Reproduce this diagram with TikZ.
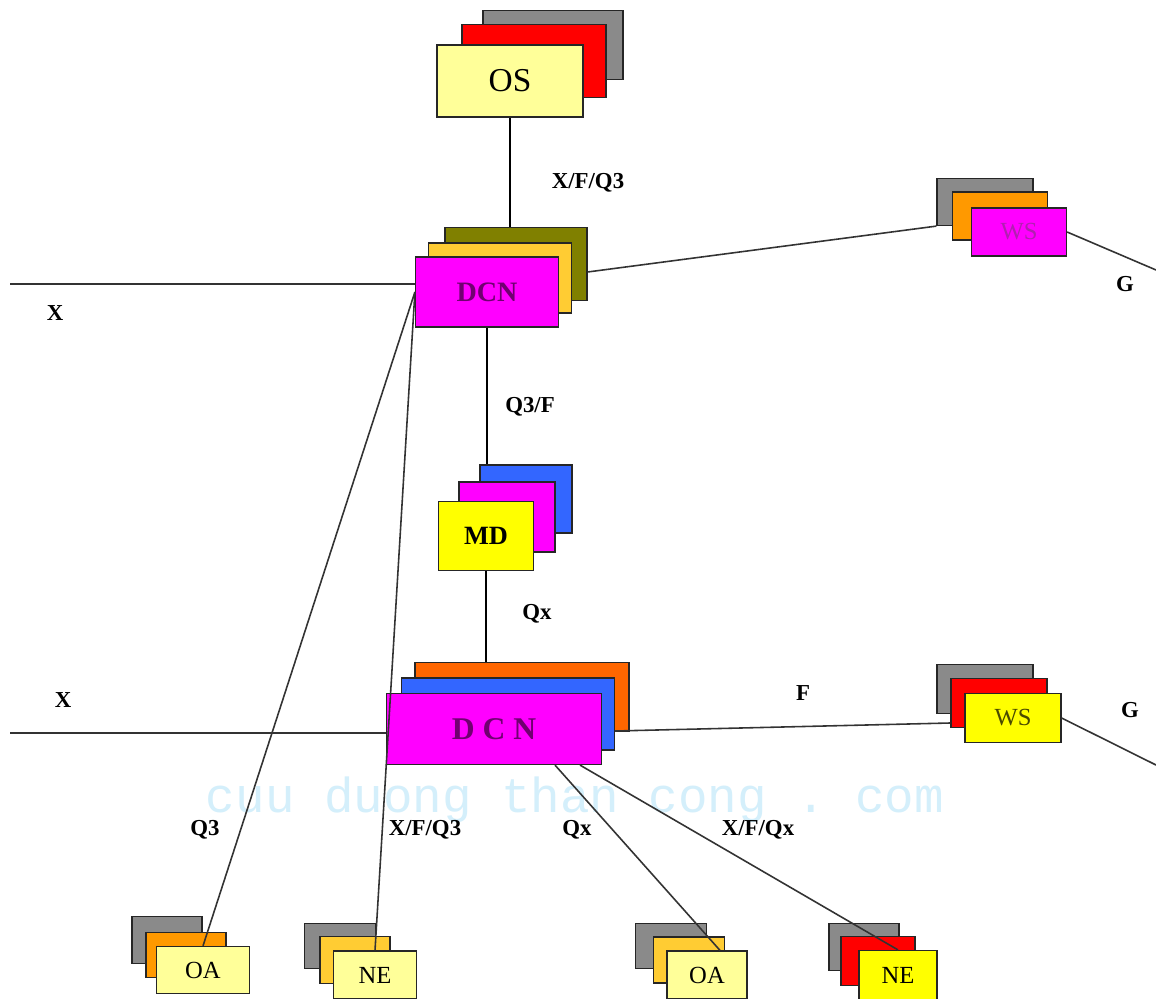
\documentclass[tikz,border=0pt]{standalone}
\usepackage{fontspec}
\setmainfont{Liberation Serif}
\setmonofont{Liberation Mono}
\definecolor{tmngray}{HTML}{8A8A8A}
\definecolor{tmnred}{HTML}{FF0000}
\definecolor{tmnpale}{HTML}{FFFF99}
\definecolor{tmnyellow}{HTML}{FFFF00}
\definecolor{tmnmagenta}{HTML}{FF00FF}
\definecolor{tmnolive}{HTML}{808000}
\definecolor{tmngold}{HTML}{FFCC33}
\definecolor{tmnorange}{HTML}{FF9900}
\definecolor{tmnblue}{HTML}{3366FF}
\definecolor{tmndeep}{HTML}{FF6600}
\definecolor{tmnplum}{HTML}{700070}
\definecolor{tmnwsplum}{HTML}{B020B0}
\definecolor{tmndark}{HTML}{4A4A00}
\definecolor{tmnmark}{HTML}{D4EFFB}

\begin{document}
\begin{tikzpicture}[x=0.02cm, y=-0.02cm,
    card/.style={draw=black!85, line width=0.7pt, inner sep=0pt},
    link/.style={draw=black!80, line width=0.9pt},
    trunk/.style={draw=black, line width=1.5pt},
    tag/.style={font=\fontsize{13}{15}\selectfont\bfseries, inner sep=1pt}]
    \fill[white] (0,0) rectangle (1156,999);
    \useasboundingbox (0,0) rectangle (1156,999);
    % watermark
    \node[font=\ttfamily\fontsize{28}{30}\selectfont, text=tmnmark, inner sep=0pt, anchor=base] (mark) at (575,812) {cuu duong than cong . com};
    % === OS ===
    \node[card, fill=tmngray, minimum width=2.80cm, minimum height=1.38cm] (osC) at (553,45) {};
    \node[card, fill=tmnred, minimum width=2.88cm, minimum height=1.46cm] (osB) at (534,61) {};
    \node[card, fill=tmnpale, minimum width=2.92cm, minimum height=1.44cm, font=\fontsize{19}{21}\selectfont] (os) at (510,81) {OS};
    % === upper DCN ===
    \node[card, fill=tmnolive, minimum width=2.84cm, minimum height=1.46cm] (dcnAc) at (516,264) {};
    \node[card, fill=tmngold, minimum width=2.86cm, minimum height=1.40cm] (dcnAb) at (500,278) {};
    \node[card, fill=tmnmagenta, minimum width=2.86cm, minimum height=1.40cm, font=\fontsize{16}{18}\selectfont\bfseries, text=tmnplum] (dcnA) at (487,292) {DCN};
    % === upper WS ===
    \node[card, fill=tmngray, minimum width=1.92cm, minimum height=0.94cm] (wsAc) at (985,202) {};
    \node[card, fill=tmnorange, minimum width=1.90cm, minimum height=0.96cm] (wsAb) at (1000,216) {};
    \node[card, fill=tmnmagenta, minimum width=1.90cm, minimum height=0.96cm, font=\fontsize{14}{16}\selectfont, text=tmnwsplum] (wsA) at (1019,232) {WS};
    % === MD ===
    \node[card, fill=tmnblue, minimum width=1.84cm, minimum height=1.36cm] (mdC) at (526,499) {};
    \node[card, fill=tmnmagenta, minimum width=1.92cm, minimum height=1.40cm] (mdB) at (507,517) {};
    \node[card, fill=tmnyellow, minimum width=1.90cm, minimum height=1.38cm, font=\fontsize{15}{17}\selectfont\bfseries] (md) at (486,536) {MD};
    % === lower DCN ===
    \node[card, fill=tmndeep, minimum width=4.28cm, minimum height=1.38cm] (dcnBc) at (522,697) {};
    \node[card, fill=tmnblue, minimum width=4.26cm, minimum height=1.44cm] (dcnBb) at (508,714) {};
    \node[card, fill=tmnmagenta, minimum width=4.30cm, minimum height=1.42cm, font=\fontsize{18}{20}\selectfont\bfseries, text=tmnplum] (dcnB) at (494,729) {D C N};
    % === lower WS ===
    \node[card, fill=tmngray, minimum width=1.92cm, minimum height=0.98cm] (wsBc) at (985,689) {};
    \node[card, fill=tmnred, minimum width=1.92cm, minimum height=0.98cm] (wsBb) at (999,703) {};
    \node[card, fill=tmnyellow, minimum width=1.92cm, minimum height=0.98cm, font=\fontsize{14}{16}\selectfont, text=tmndark] (wsB) at (1013,718) {WS};
    % === bottom row ===
    \node[card, fill=tmngray, minimum width=1.40cm, minimum height=0.94cm] (oaAc) at (167,940) {};
    \node[card, fill=tmnorange, minimum width=1.60cm, minimum height=0.90cm] (oaAb) at (186,955) {};
    \node[card, fill=tmnpale, minimum width=1.86cm, minimum height=0.94cm, font=\fontsize{14}{16}\selectfont] (oaA) at (203,970) {OA};
    \node[card, fill=tmngray, minimum width=1.42cm, minimum height=0.90cm] (neAc) at (340,946) {};
    \node[card, fill=tmngold, minimum width=1.40cm, minimum height=0.94cm] (neAb) at (355,960) {};
    \node[card, fill=tmnpale, minimum width=1.66cm, minimum height=0.96cm, font=\fontsize{14}{16}\selectfont] (neA) at (375,975) {NE};
    \node[card, fill=tmngray, minimum width=1.42cm, minimum height=0.90cm] (oaBc) at (671,946) {};
    \node[card, fill=tmngold, minimum width=1.42cm, minimum height=0.92cm] (oaBb) at (689,960) {};
    \node[card, fill=tmnpale, minimum width=1.60cm, minimum height=0.96cm, font=\fontsize{14}{16}\selectfont] (oaB) at (707,975) {OA};
    \node[card, fill=tmngray, minimum width=1.40cm, minimum height=0.94cm] (neBc) at (864,947) {};
    \node[card, fill=tmnred, minimum width=1.48cm, minimum height=0.98cm] (neBb) at (878,961) {};
    \node[card, fill=tmnyellow, minimum width=1.56cm, minimum height=0.98cm, font=\fontsize{14}{16}\selectfont] (neB) at (898,975) {NE};
    % free ends
    \coordinate (xA) at (10,284);
    \coordinate (xB) at (10,733);
    \coordinate (gA) at (1156,270);
    \coordinate (gB) at (1156,765);
    % === connectors ===
    \draw[trunk] (os.south -| 510,0) -- (dcnAc.north -| 510,0);
    \draw[trunk] (dcnA.south) -- (dcnA.south |- mdC.north);
    \draw[trunk] (md.south) -- (md.south |- dcnBc.north);
    \draw[link] (xA) -- (xA -| dcnA.west);
    \draw[link] (xB) -- (xB -| dcnB.west);
    \draw[link] (dcnAc.east |- 0,272) -- (wsAc.south west);
    \draw[link] (wsA.east) -- (gA);
    \draw[link] (dcnBb.east |- 0,731) -- (wsBb.west |- 0,723);
    \draw[link] (wsB.east) -- (gB);
    \draw[link] (dcnA.west) -- (oaA.north);
    \draw[link] (dcnA.west) -- (neA.north);
    \draw[link] (dcnB.south -| 555,0) -- (oaB.north -| 720,0);
    \draw[link] (dcnB.south -| 580,0) -- (neB.north);
    % labels
    \node[tag] (lOS) at (588,183) {X/F/Q3};
    \node[tag] (lXA) at (55,313) {X};
    \node[tag] (lGA) at (1125,284) {G};
    \node[tag] (lMD) at (530,407) {Q3/F};
    \node[tag] (lQx) at (537,614) {Qx};
    \node[tag] (lXB) at (63,700) {X};
    \node[tag] (lF) at (803,693) {F};
    \node[tag] (lGB) at (1130,710) {G};
    \node[tag] (lQ3) at (205,830) {Q3};
    \node[tag] (lNEA) at (425,830) {X/F/Q3};
    \node[tag] (lOAB) at (577,830) {Qx};
    \node[tag] (lNEB) at (758,830) {X/F/Qx};
\end{tikzpicture}
\end{document}
